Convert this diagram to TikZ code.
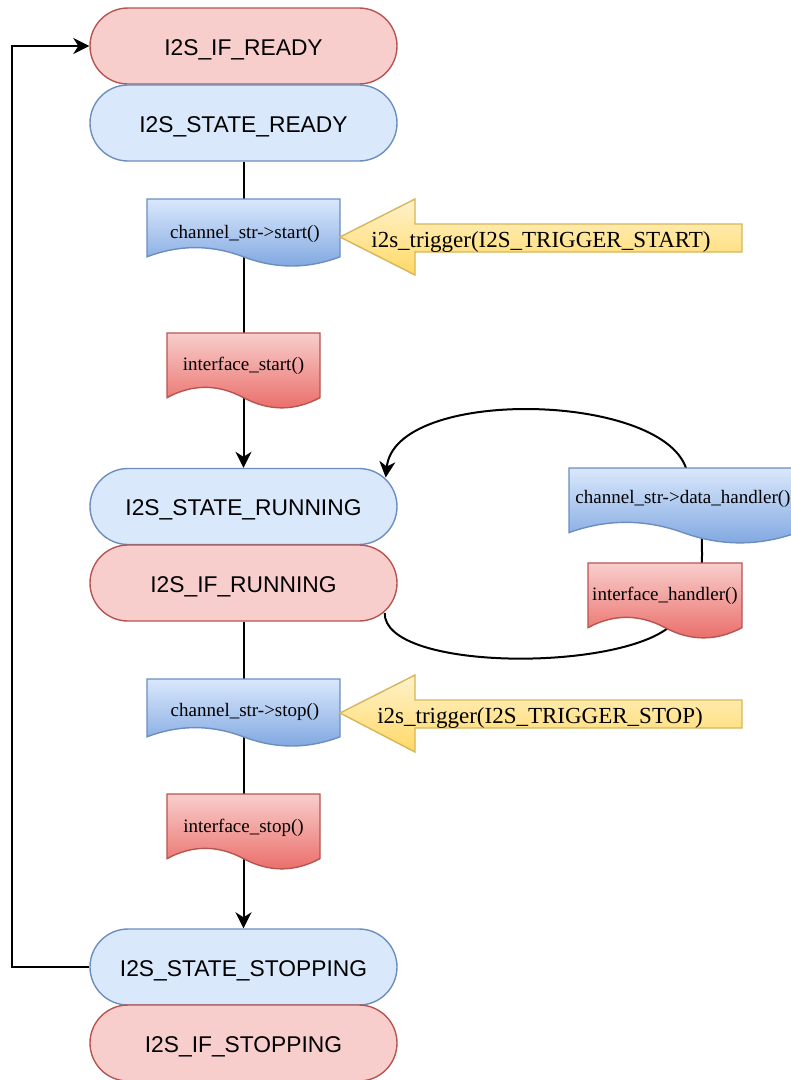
\documentclass[tikz,border=0pt]{standalone}
\usepackage{fontspec}
\setmainfont{Liberation Serif}
\newfontfamily\pillfont{Liberation Sans}
\usetikzlibrary{arrows.meta,calc}
\pgfdeclarelayer{edges}
\pgfdeclarelayer{shapes}
\pgfsetlayers{edges,shapes,main}
\definecolor{redfill}{HTML}{F8CECC}
\definecolor{redline}{HTML}{B85450}
\definecolor{redbot}{HTML}{EA6B66}
\definecolor{bluefill}{HTML}{DAE8FC}
\definecolor{blueline}{HTML}{6C8EBF}
\definecolor{bluebot}{HTML}{7EA6E0}
\definecolor{yeltop}{HTML}{FFF2CC}
\definecolor{yelbot}{HTML}{FFD966}
\definecolor{yelline}{HTML}{D6B656}
% document shape: X Y W H style
\newcommand\docshape[5]{%
  \begin{pgfonlayer}{shapes}
  \begin{scope}[shift={(#1,#2)}, x=#3pt, y=-#4pt]
    \path[#5] (0,0) -- (1,0) -- (1,0.85)
      .. controls (0.8333,1.03) and (0.6667,1.03) .. (0.5,0.85)
      .. controls (0.3333,0.67) and (0.1667,0.67) .. (0,0.85) -- cycle;
  \end{scope}
  \end{pgfonlayer}}
\begin{document}
\begin{tikzpicture}[x=1pt,y=-1pt,
  pill/.style={draw, line width=1.4pt, rounded corners=38pt, minimum width=307pt,
    minimum height=76pt, inner sep=0pt, text height=18pt, text depth=0pt,
    font=\pillfont\fontsize{22.8}{26}\selectfont},
  redpill/.style={pill, fill=redfill, draw=redline},
  bluepill/.style={pill, fill=bluefill, draw=blueline},
  docblue/.style={top color=bluefill, bottom color=bluebot, draw=blueline, line width=1.4pt},
  docred/.style={top color=redfill, bottom color=redbot, draw=redline, line width=1.4pt},
  doctext/.style={font=\fontsize{19}{22}\selectfont, inner sep=0pt},
  trigtext/.style={font=\fontsize{23}{27}\selectfont, inner sep=0pt},
  trigshape/.style={top color=yeltop, bottom color=yelbot, draw=yelline, line width=1.4pt},
  conn/.style={line width=2pt, draw=black},
  arrowed/.style={-{Stealth[length=16pt,width=16pt,inset=5pt]}}
]
\useasboundingbox (0,0) rectangle (791,1080);

% state pills
\node[redpill]  (ifready)  at (243.5,46)   {I2S\_IF\_READY};
\node[bluepill] (ready)    at (243.5,123)  {I2S\_STATE\_READY};
\node[bluepill] (running)  at (243.5,506.5){I2S\_STATE\_RUNNING};
\node[redpill]  (ifrun)    at (243.5,583)  {I2S\_IF\_RUNNING};
\node[bluepill] (stopping) at (243.5,967)  {I2S\_STATE\_STOPPING};
\node[redpill]  (ifstop)   at (243.5,1043) {I2S\_IF\_STOPPING};

% documents
\docshape{147}{199}{193}{68}{docblue}
\node[doctext] (start) at (245,234) {channel\_str->start()};
\docshape{167}{333}{153}{76}{docred}
\node[doctext] (istart) at (243.5,366) {interface\_start()};
\docshape{569}{468}{228}{76}{docblue}
\node[doctext] (datah) at (683,499) {channel\_str->data\_handler()};
\docshape{588}{563}{154}{76}{docred}
\node[doctext] (ihandler) at (665,596) {interface\_handler()};
\docshape{147}{679}{193}{68}{docblue}
\node[doctext] (stop) at (245,712) {channel\_str->stop()};
\docshape{167}{794}{153}{76}{docred}
\node[doctext] (istop) at (243.5,828) {interface\_stop()};

% trigger arrows
\begin{pgfonlayer}{shapes}
\path[trigshape] (742,224) -- (415,224) -- (415,199) -- (340,237) -- (415,275)
  -- (415,252) -- (742,252) -- cycle;
\path[trigshape] (742,700) -- (415,700) -- (415,675) -- (340,713) -- (415,752)
  -- (415,728) -- (742,728) -- cycle;
\end{pgfonlayer}
\node[trigtext] (trigstart) at (541,242) {i2s\_trigger(I2S\_TRIGGER\_START)};
\node[trigtext] (trigstop)  at (540,718) {i2s\_trigger(I2S\_TRIGGER\_STOP)};

% loop waypoints
\coordinate (lp1) at (668,628);
\coordinate (lp2) at (702,555);
\coordinate (lp3) at (686,468);

% connectors
\begin{pgfonlayer}{edges}
\draw[conn, arrowed] (ready.south) -- (running.north);
\draw[conn, arrowed] (ifrun.south) -- (stopping.north);
\draw[conn, arrowed] (stopping.west) -- ++(-77,0) |- (ifready.west);
\draw[conn, arrowed] ($(ifrun.east)+(-13,30)$)
   .. controls (384,670) and (610,672) .. (lp1)
   .. controls (700,605) and (702,580) .. (lp2)
   .. controls (702,520) and (700,490) .. (lp3)
   .. controls (660,392) and (395,387) .. ($(running.east)+(-12,-29)$);
\end{pgfonlayer}
\end{tikzpicture}
\end{document}
